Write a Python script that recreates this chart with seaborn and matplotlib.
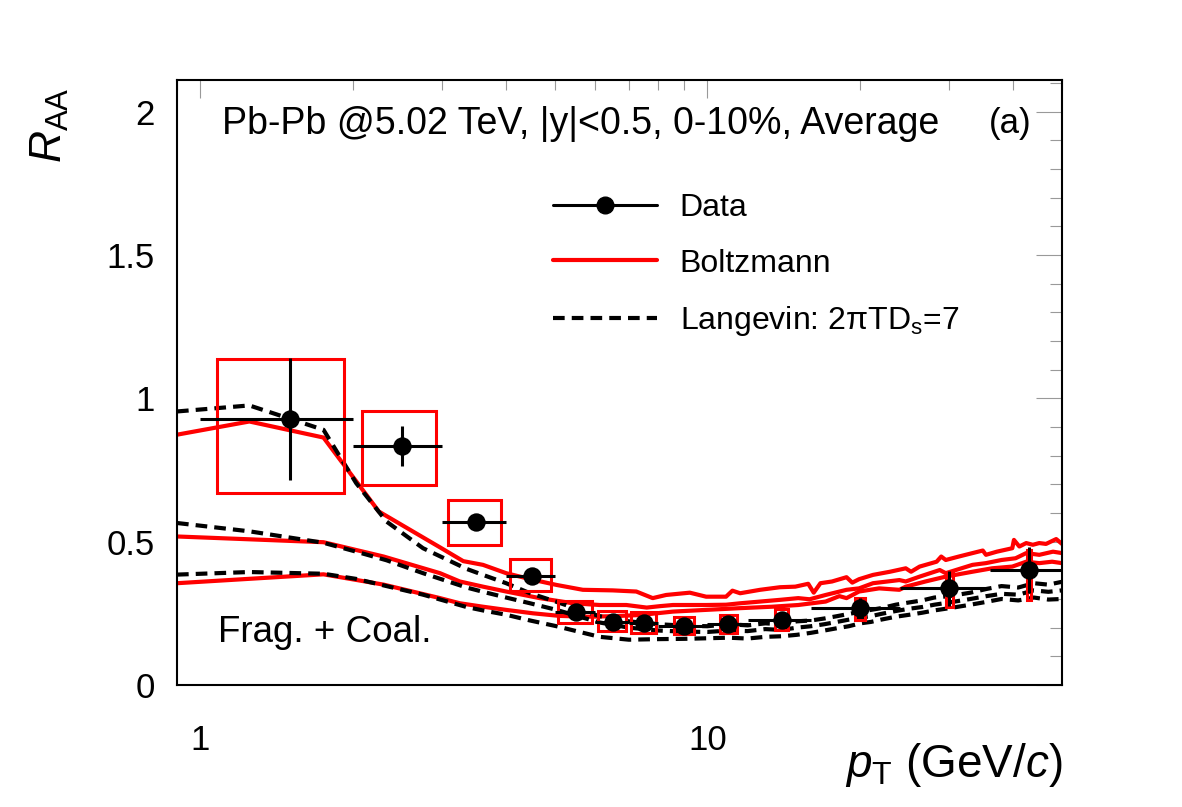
import numpy as np
import pandas as pd
import matplotlib
matplotlib.use("Agg")
import matplotlib.pyplot as plt
from matplotlib import ticker
from matplotlib.lines import Line2D
from matplotlib.patches import Rectangle
import seaborn as sns

# Data points (pT bins, RAA, stat and sys errors)
pt_center = [1.5, 2.5, 3.5, 4.5, 5.5, 6.5, 7.5, 9.0, 11.0, 14.0, 20.0, 30.0, 43.0]
pt_low = [1, 2, 3, 4, 5, 6, 7, 8, 10, 12, 16, 24, 36]
pt_high = [2, 3, 4, 5, 6, 7, 8, 10, 12, 16, 24, 36, 50]
raa = [0.929, 0.834, 0.569, 0.381, 0.254, 0.221, 0.217, 0.207, 0.213, 0.227, 0.270, 0.337, 0.401]
raa_stat = [0.213, 0.07, 0.02, 0.012, 0.01, 0.01, 0.01, 0.01, 0.01, 0.012, 0.035, 0.06, 0.08]
sys_low = [0.671, 0.697, 0.487, 0.328, 0.215, 0.19, 0.18, 0.177, 0.18, 0.192, 0.227, 0.271, 0.297]
sys_high = [1.138, 0.956, 0.646, 0.44, 0.294, 0.258, 0.254, 0.238, 0.244, 0.264, 0.303, 0.395, 0.471]

# Boltzmann curves (red)
boltz1_pt = [0.9, 1.25, 1.75, 2.25, 2.97, 3.3, 3.61, 4.01, 4.5, 5.04, 5.68, 6.5, 7.24, 7.8, 8.29,
             9.23, 9.94, 10.88, 11.2, 11.6, 12.7, 13.9, 14.9, 15.8, 16.2, 16.7, 17.6, 18.8, 19.3,
             19.9, 21.2, 22.9, 24.6, 25.2, 26.2, 28.3, 28.9, 29.5, 31.3, 33.3, 34.9, 35.4, 37.2,
             39.9, 40.2, 41.2, 42.5, 43.8, 45.1, 46.5, 48.7, 50.0]
boltz1_raa = [0.873, 0.919, 0.863, 0.605, 0.48, 0.432, 0.419, 0.39, 0.368, 0.349, 0.332, 0.33,
              0.326, 0.303, 0.314, 0.322, 0.308, 0.308, 0.329, 0.32, 0.332, 0.341, 0.343, 0.353,
              0.322, 0.355, 0.361, 0.376, 0.357, 0.369, 0.384, 0.395, 0.407, 0.395, 0.413, 0.43,
              0.448, 0.436, 0.448, 0.46, 0.469, 0.454, 0.465, 0.477, 0.506, 0.483, 0.495, 0.489,
              0.495, 0.492, 0.509, 0.492]
boltz2_pt = [0.9, 1.75, 2.3, 2.97, 3.25, 3.61, 4.01, 4.67, 5.43, 6.13, 6.92, 7.59, 8.06, 8.55,
             9.94, 10.88, 11.6, 12.7, 13.9, 15.1, 15.9, 17.1, 18.8, 19.9, 21.2, 23.9, 24.6, 26.2,
             28.7, 29.5, 33.3, 35.4, 38.0, 40.5, 42.5, 45.1, 48.0, 50.0]
boltz2_raa = [0.518, 0.498, 0.448, 0.39, 0.361, 0.343, 0.326, 0.303, 0.285, 0.279, 0.279, 0.27,
              0.275, 0.279, 0.279, 0.28, 0.285, 0.291, 0.297, 0.303, 0.299, 0.314, 0.332, 0.337,
              0.355, 0.366, 0.361, 0.378, 0.401, 0.39, 0.419, 0.425, 0.436, 0.442, 0.46, 0.454,
              0.465, 0.46]
boltz3_pt = [0.9, 1.75, 2.3, 2.97, 3.25, 3.61, 4.01, 4.53, 5.11, 5.8, 6.5, 7.36, 8.55, 9.94,
             11.6, 13.4, 15.1, 17.1, 18.2, 18.8, 19.9, 21.8, 23.9, 24.6, 26.9, 29.5, 33.3, 36.4,
             39.9, 42.5, 45.1, 47.8, 50.0]
boltz3_raa = [0.355, 0.386, 0.35, 0.303, 0.285, 0.273, 0.262, 0.25, 0.241, 0.238, 0.24, 0.244,
              0.256, 0.262, 0.268, 0.273, 0.279, 0.291, 0.31, 0.303, 0.326, 0.337, 0.332, 0.343,
              0.361, 0.378, 0.395, 0.407, 0.413, 0.43, 0.425, 0.43, 0.425]

# Langevin curves (black dashed)
lang_pt = [0.9, 1.25, 1.75, 2.03, 2.33, 2.75, 3.35, 3.61, 4.01, 4.47, 5.04, 5.6, 6.13, 7.0, 8.0,
           9.0, 10.0, 11.0, 12.0, 13.0, 14.0, 15.0, 16.0, 17.0, 18.0, 19.0, 20.0, 21.0, 22.0,
           23.5, 25.0, 26.5, 28.0, 30.0, 33.0, 35.5, 38.0, 41.0, 44.0, 47.0, 50.0]
lang1_raa = [0.954, 0.975, 0.89, 0.704, 0.57, 0.477, 0.405, 0.384, 0.355, 0.32, 0.29, 0.262,
             0.24, 0.222, 0.212, 0.207, 0.205, 0.212, 0.208, 0.215, 0.212, 0.222, 0.225, 0.232,
             0.24, 0.248, 0.255, 0.262, 0.268, 0.28, 0.288, 0.295, 0.305, 0.31, 0.322, 0.335,
             0.345, 0.34, 0.355, 0.35, 0.36]
lang2_raa = [0.565, 0.536, 0.496, 0.465, 0.435, 0.39, 0.34, 0.325, 0.305, 0.285, 0.262, 0.238,
             0.218, 0.2, 0.19, 0.186, 0.185, 0.19, 0.188, 0.195, 0.192, 0.2, 0.205, 0.212, 0.22,
             0.228, 0.235, 0.24, 0.248, 0.258, 0.266, 0.272, 0.28, 0.288, 0.3, 0.31, 0.318,
             0.315, 0.33, 0.325, 0.33]
lang3_raa = [0.385, 0.394, 0.388, 0.37, 0.345, 0.315, 0.272, 0.26, 0.245, 0.225, 0.205, 0.185,
             0.168, 0.158, 0.16, 0.161, 0.163, 0.165, 0.162, 0.168, 0.17, 0.175, 0.182, 0.19,
             0.198, 0.205, 0.215, 0.22, 0.228, 0.238, 0.245, 0.252, 0.26, 0.268, 0.28, 0.29,
             0.3, 0.295, 0.305, 0.298, 0.3]

sns.set_theme(style="white")
plt.rcParams['font.family'] = ['Liberation Sans', 'DejaVu Sans']
plt.rcParams['mathtext.fontset'] = 'custom'
plt.rcParams['mathtext.rm'] = 'Liberation Sans'
plt.rcParams['mathtext.it'] = 'Liberation Sans:italic'
plt.rcParams['text.color'] = 'black'

fig = plt.figure(figsize=(11.82, 8.07), dpi=100)
ax = fig.add_axes([177 / 1182, 1 - 685 / 807, 885 / 1182, 605 / 807])
ax.set_xscale('log')

red = '#ff0000'
dash = (0, (2.8, 1.7))

for xs, ys in [(boltz1_pt, boltz1_raa), (boltz2_pt, boltz2_raa), (boltz3_pt, boltz3_raa)]:
    df = pd.DataFrame({'pt': xs, 'raa': ys})
    sns.lineplot(data=df, x='pt', y='raa', estimator=None, sort=False, color=red,
                 lw=3, ax=ax, zorder=2)

for ys in [lang1_raa, lang2_raa, lang3_raa]:
    df = pd.DataFrame({'pt': lang_pt, 'raa': ys})
    sns.lineplot(data=df, x='pt', y='raa', estimator=None, sort=False, color='black',
                 lw=3, linestyle=dash, ax=ax, zorder=3)

# systematic boxes
half_w = 0.42
for xc, lo, hi in zip(pt_center, sys_low, sys_high):
    ax.add_patch(Rectangle((xc - half_w, lo), 2 * half_w, hi - lo, fill=False,
                           edgecolor=red, lw=2.2, zorder=4))

pc = np.array(pt_center)
ax.errorbar(pc, raa, xerr=[pc - np.array(pt_low), np.array(pt_high) - pc], yerr=raa_stat,
            fmt='none', ecolor='black', elinewidth=2.2, capsize=0, zorder=5)
pts = pd.DataFrame({'pt': pt_center, 'raa': raa})
sns.scatterplot(data=pts, x='pt', y='raa', color='black', s=175, linewidth=0, ax=ax, zorder=6)

ax.set_xlim(0.9, 50)
ax.set_ylim(0, 2.11)
ax.set_xlabel('')
ax.set_ylabel('')

ax.xaxis.set_major_locator(ticker.LogLocator(base=10))
ax.xaxis.set_minor_locator(ticker.LogLocator(base=10, subs=np.arange(2, 10)))
ax.xaxis.set_major_formatter(ticker.FuncFormatter(lambda v, _: f"{v:g}"))
ax.xaxis.set_minor_formatter(ticker.NullFormatter())
ax.yaxis.set_major_locator(ticker.MultipleLocator(0.5))
ax.yaxis.set_minor_locator(ticker.MultipleLocator(0.1))
ax.yaxis.set_major_formatter(ticker.FuncFormatter(lambda v, _: f"{v:g}"))

ax.tick_params(which='both', direction='in', top=True, right=True, color='0.6', width=0.8,
               labelsize=25, labelcolor='black')
ax.tick_params(axis='x', which='major', length=13, pad=28)
ax.tick_params(axis='x', which='minor', length=7)
ax.tick_params(axis='y', which='major', length=19, pad=16)
ax.tick_params(axis='y', which='minor', length=9)
for s in ax.spines.values():
    s.set_color('black')
    s.set_linewidth(1.5)

# legend
handles = [Line2D([], [], color='black', lw=2.2, marker='o', ms=12),
           Line2D([], [], color=red, lw=3),
           Line2D([], [], color='black', lw=3, linestyle=dash)]
labels = ['Data', 'Boltzmann', 'Langevin: 2πTD$_{\\mathrm{s}}$=7']
leg = ax.legend(handles, labels, loc='upper left',
                bbox_to_anchor=((553 - 177) / 885, (685 - 193) / 605),
                frameon=False, fontsize=23, handlelength=3.25, handletextpad=0.72,
                labelspacing=0.8, borderpad=0, borderaxespad=0)
for t in leg.get_texts():
    t.set_color('black')

fig.text(222 / 1182, 1 - 124 / 807, 'Pb-Pb @5.02 TeV, |y|<0.5, 0-10%, Average',
         fontsize=27, ha='left', va='center', color='black')
fig.text(1010 / 1182, 1 - 124 / 807, '(a)', fontsize=25, ha='center', va='center',
         color='black')
fig.text(218 / 1182, 1 - 633 / 807, 'Frag. + Coal.', fontsize=26.5, ha='left', va='center',
         color='black')
fig.text(50 / 1182, 1 - 125 / 807, r'$R_{\mathrm{AA}}$', fontsize=32, rotation=90,
         ha='center', va='center', color='black')
fig.text(1062 / 1182, 1 - 765 / 807, r'$p_{\mathrm{T}}$ (GeV/$c$)', fontsize=33,
         ha='right', va='center', color='black')

fig.savefig('out.png', dpi=100)
